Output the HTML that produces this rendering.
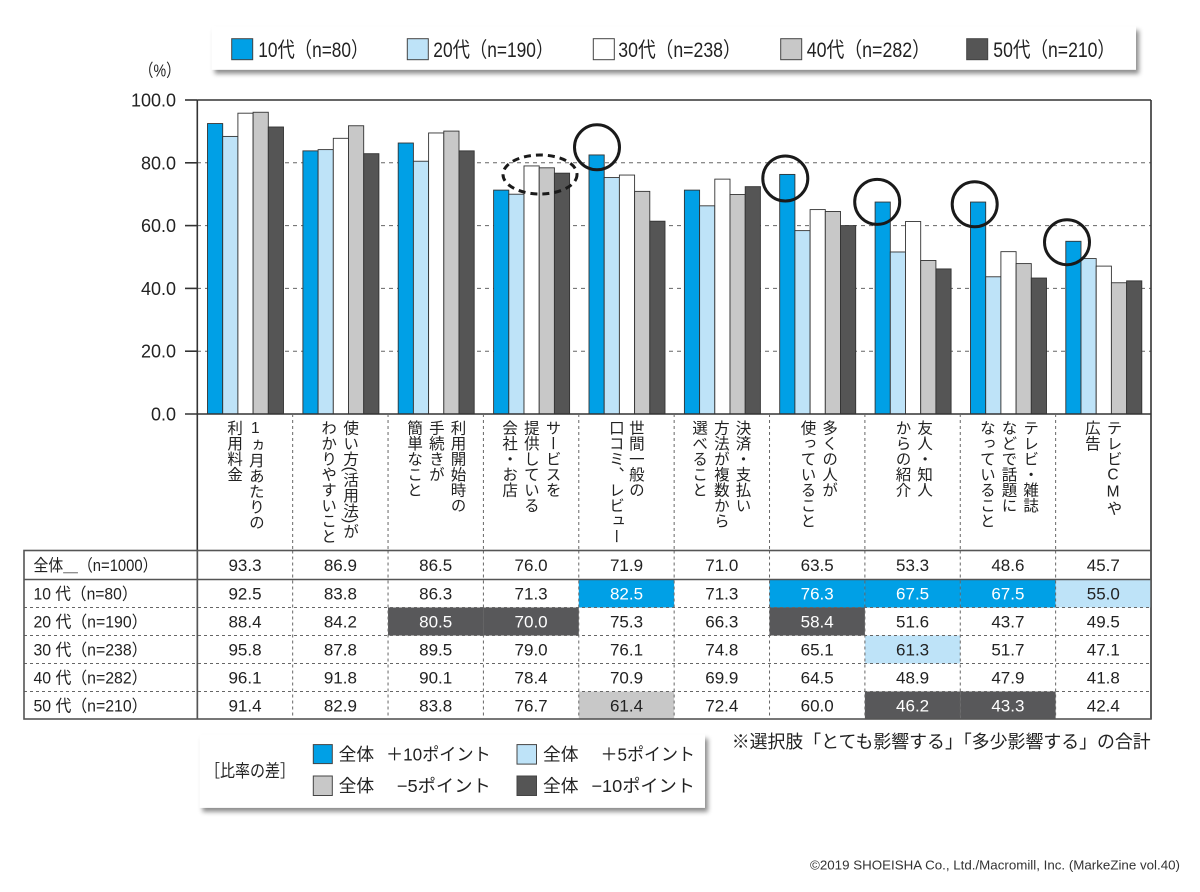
<!DOCTYPE html>
<html><head><meta charset="utf-8">
<style>
html,body{margin:0;padding:0;background:#fff;}
#root{position:relative;width:1200px;height:892px;overflow:hidden;background:#fff;font-family:"Liberation Sans","Noto Sans CJK JP",sans-serif;}
svg{position:absolute;left:0;top:0;}
.vl{position:absolute;top:420px;width:21.7px;writing-mode:vertical-rl;text-orientation:mixed;font-size:15.5px;line-height:21.7px;color:#222;white-space:nowrap;font-family:"Liberation Sans","Noto Sans CJK JP",sans-serif;}
.up{text-orientation:upright;}
</style></head><body><div id="root">
<svg width="1200" height="892" viewBox="0 0 1200 892" xmlns="http://www.w3.org/2000/svg" font-family="'Liberation Sans','Noto Sans CJK JP',sans-serif" fill="#222">
<defs>
<filter id="sh" x="-5%" y="-30%" width="110%" height="170%"><feDropShadow dx="3" dy="4" stdDeviation="2.5" flood-color="#000" flood-opacity="0.45"/></filter>
</defs>

<!-- top legend -->
<rect x="211.7" y="26.3" width="924.3" height="43.4" fill="#fff" filter="url(#sh)"/>
<g stroke="#444" stroke-width="1">
<rect x="231.7" y="38.7" width="21" height="21" fill="#00a0e6"/>
<rect x="407.3" y="38.7" width="21" height="21" fill="#bee3f8"/>
<rect x="593.3" y="38.7" width="21" height="21" fill="#fff"/>
<rect x="780.7" y="38.7" width="21" height="21" fill="#c8c8c8"/>
<rect x="966.7" y="38.7" width="21" height="21" fill="#555"/>
</g>
<g font-size="21">
<text x="258.3" y="57" textLength="110" lengthAdjust="spacingAndGlyphs">10代（n=80）</text>
<text x="433.3" y="57" textLength="120" lengthAdjust="spacingAndGlyphs">20代（n=190）</text>
<text x="618.3" y="57" textLength="122.4" lengthAdjust="spacingAndGlyphs">30代（n=238）</text>
<text x="806.7" y="57" textLength="123.3" lengthAdjust="spacingAndGlyphs">40代（n=282）</text>
<text x="993.3" y="57" textLength="121.7" lengthAdjust="spacingAndGlyphs">50代（n=210）</text>
</g>

<!-- (%) -->
<text x="139.3" y="76.5" font-size="17.5" textLength="41" lengthAdjust="spacingAndGlyphs">（%）</text>

<!-- gridlines -->
<g stroke="#666" stroke-width="1" stroke-dasharray="4,4">
<line x1="197" y1="162.8" x2="1151" y2="162.8"/>
<line x1="197" y1="225.6" x2="1151" y2="225.6"/>
<line x1="197" y1="288.4" x2="1151" y2="288.4"/>
<line x1="197" y1="351.2" x2="1151" y2="351.2"/>
</g>

<!-- bars -->
<g stroke="#333" stroke-width="0.9">
<rect x="207.5" y="123.55" width="15.2" height="290.45" fill="#00a0e6"/>
<rect x="222.7" y="136.42" width="15.2" height="277.58" fill="#bee3f8"/>
<rect x="237.9" y="113.19" width="15.2" height="300.81" fill="#fff"/>
<rect x="253.1" y="112.25" width="15.2" height="301.75" fill="#c8c8c8"/>
<rect x="268.3" y="127.0" width="15.2" height="287.0" fill="#555"/>
<rect x="302.9" y="150.87" width="15.2" height="263.13" fill="#00a0e6"/>
<rect x="318.1" y="149.61" width="15.2" height="264.39" fill="#bee3f8"/>
<rect x="333.3" y="138.31" width="15.2" height="275.69" fill="#fff"/>
<rect x="348.5" y="125.75" width="15.2" height="288.25" fill="#c8c8c8"/>
<rect x="363.7" y="153.69" width="15.2" height="260.31" fill="#555"/>
<rect x="398.2" y="143.02" width="15.2" height="270.98" fill="#00a0e6"/>
<rect x="413.4" y="161.23" width="15.2" height="252.77" fill="#bee3f8"/>
<rect x="428.6" y="132.97" width="15.2" height="281.03" fill="#fff"/>
<rect x="443.8" y="131.09" width="15.2" height="282.91" fill="#c8c8c8"/>
<rect x="459.0" y="150.87" width="15.2" height="263.13" fill="#555"/>
<rect x="493.6" y="190.12" width="15.2" height="223.88" fill="#00a0e6"/>
<rect x="508.8" y="194.2" width="15.2" height="219.8" fill="#bee3f8"/>
<rect x="524.0" y="165.94" width="15.2" height="248.06" fill="#fff"/>
<rect x="539.2" y="167.82" width="15.2" height="246.18" fill="#c8c8c8"/>
<rect x="554.4" y="173.16" width="15.2" height="240.84" fill="#555"/>
<rect x="589.0" y="154.95" width="15.2" height="259.05" fill="#00a0e6"/>
<rect x="604.2" y="177.56" width="15.2" height="236.44" fill="#bee3f8"/>
<rect x="619.4" y="175.05" width="15.2" height="238.95" fill="#fff"/>
<rect x="634.6" y="191.37" width="15.2" height="222.63" fill="#c8c8c8"/>
<rect x="649.8" y="221.2" width="15.2" height="192.8" fill="#555"/>
<rect x="684.4" y="190.12" width="15.2" height="223.88" fill="#00a0e6"/>
<rect x="699.6" y="205.82" width="15.2" height="208.18" fill="#bee3f8"/>
<rect x="714.8" y="179.13" width="15.2" height="234.87" fill="#fff"/>
<rect x="730.0" y="194.51" width="15.2" height="219.49" fill="#c8c8c8"/>
<rect x="745.2" y="186.66" width="15.2" height="227.34" fill="#555"/>
<rect x="779.7" y="174.42" width="15.2" height="239.58" fill="#00a0e6"/>
<rect x="794.9" y="230.62" width="15.2" height="183.38" fill="#bee3f8"/>
<rect x="810.1" y="209.59" width="15.2" height="204.41" fill="#fff"/>
<rect x="825.3" y="211.47" width="15.2" height="202.53" fill="#c8c8c8"/>
<rect x="840.5" y="225.6" width="15.2" height="188.4" fill="#555"/>
<rect x="875.1" y="202.05" width="15.2" height="211.95" fill="#00a0e6"/>
<rect x="890.3" y="251.98" width="15.2" height="162.02" fill="#bee3f8"/>
<rect x="905.5" y="221.52" width="15.2" height="192.48" fill="#fff"/>
<rect x="920.7" y="260.45" width="15.2" height="153.55" fill="#c8c8c8"/>
<rect x="935.9" y="268.93" width="15.2" height="145.07" fill="#555"/>
<rect x="970.5" y="202.05" width="15.2" height="211.95" fill="#00a0e6"/>
<rect x="985.7" y="276.78" width="15.2" height="137.22" fill="#bee3f8"/>
<rect x="1000.9" y="251.66" width="15.2" height="162.34" fill="#fff"/>
<rect x="1016.1" y="263.59" width="15.2" height="150.41" fill="#c8c8c8"/>
<rect x="1031.3" y="278.04" width="15.2" height="135.96" fill="#555"/>
<rect x="1065.8" y="241.3" width="15.2" height="172.7" fill="#00a0e6"/>
<rect x="1081.0" y="258.57" width="15.2" height="155.43" fill="#bee3f8"/>
<rect x="1096.2" y="266.11" width="15.2" height="147.89" fill="#fff"/>
<rect x="1111.4" y="282.75" width="15.2" height="131.25" fill="#c8c8c8"/>
<rect x="1126.6" y="280.86" width="15.2" height="133.14" fill="#555"/>
</g>

<!-- circles -->
<g fill="none" stroke="#1a1a1a" stroke-width="3">
<circle cx="597" cy="147.3" r="22.5"/>
<circle cx="785.3" cy="178.5" r="22.5"/>
<circle cx="877.2" cy="201.9" r="22.5"/>
<circle cx="974.7" cy="204.3" r="22.5"/>
<circle cx="1067" cy="242.2" r="22.5"/>
<ellipse cx="540" cy="174.5" rx="37" ry="19.5" stroke-dasharray="7,5"/>
</g>

<!-- plot frame -->
<g stroke="#333" stroke-width="1.6" fill="none">
<line x1="197.3" y1="100" x2="1151" y2="100"/>
<line x1="1151" y1="100" x2="1151" y2="719"/>
<line x1="197.3" y1="100" x2="197.3" y2="719"/>
<line x1="185" y1="414" x2="1151" y2="414"/>
<line x1="185" y1="100" x2="197.3" y2="100"/>
<line x1="185" y1="162.8" x2="197.3" y2="162.8"/>
<line x1="185" y1="225.6" x2="197.3" y2="225.6"/>
<line x1="185" y1="288.4" x2="197.3" y2="288.4"/>
<line x1="185" y1="351.2" x2="197.3" y2="351.2"/>
</g>

<!-- y labels -->
<g font-size="18" text-anchor="end">
<text x="176" y="106.5">100.0</text>
<text x="176" y="169.3">80.0</text>
<text x="176" y="232.1">60.0</text>
<text x="176" y="294.9">40.0</text>
<text x="176" y="357.7">20.0</text>
<text x="176" y="420.5">0.0</text>
</g>

<!-- label area separators -->
<g stroke="#666" stroke-width="1" stroke-dasharray="3,3">
<line x1="292.67" y1="414" x2="292.67" y2="550.5"/>
<line x1="388.04" y1="414" x2="388.04" y2="550.5"/>
<line x1="483.41" y1="414" x2="483.41" y2="550.5"/>
<line x1="578.78" y1="414" x2="578.78" y2="550.5"/>
<line x1="674.15" y1="414" x2="674.15" y2="550.5"/>
<line x1="769.52" y1="414" x2="769.52" y2="550.5"/>
<line x1="864.89" y1="414" x2="864.89" y2="550.5"/>
<line x1="960.26" y1="414" x2="960.26" y2="550.5"/>
<line x1="1055.63" y1="414" x2="1055.63" y2="550.5"/>
</g>

<!-- table highlight cells -->
<rect x="578.78" y="579.5" width="95.37" height="28" fill="#00a0e6"/>
<rect x="769.52" y="579.5" width="95.37" height="28" fill="#00a0e6"/>
<rect x="864.89" y="579.5" width="95.37" height="28" fill="#00a0e6"/>
<rect x="960.26" y="579.5" width="95.37" height="28" fill="#00a0e6"/>
<rect x="1055.63" y="579.5" width="95.37" height="28" fill="#bee3f8"/>
<rect x="388.04" y="607.5" width="95.37" height="28" fill="#58585a"/>
<rect x="483.41" y="607.5" width="95.37" height="28" fill="#58585a"/>
<rect x="769.52" y="607.5" width="95.37" height="28" fill="#58585a"/>
<rect x="864.89" y="635.5" width="95.37" height="28" fill="#bee3f8"/>
<rect x="578.78" y="691.5" width="95.37" height="27.5" fill="#c8c8c8"/>
<rect x="864.89" y="691.5" width="95.37" height="27.5" fill="#58585a"/>
<rect x="960.26" y="691.5" width="95.37" height="27.5" fill="#58585a"/>

<!-- table grid -->
<g stroke="#666" stroke-width="1" stroke-dasharray="3,3">
<line x1="24" y1="607.5" x2="1151" y2="607.5"/>
<line x1="24" y1="635.5" x2="1151" y2="635.5"/>
<line x1="24" y1="663.5" x2="1151" y2="663.5"/>
<line x1="24" y1="691.5" x2="1151" y2="691.5"/>
<line x1="292.67" y1="550.5" x2="292.67" y2="719"/>
<line x1="388.04" y1="550.5" x2="388.04" y2="719"/>
<line x1="483.41" y1="550.5" x2="483.41" y2="719"/>
<line x1="578.78" y1="550.5" x2="578.78" y2="719"/>
<line x1="674.15" y1="550.5" x2="674.15" y2="719"/>
<line x1="769.52" y1="550.5" x2="769.52" y2="719"/>
<line x1="864.89" y1="550.5" x2="864.89" y2="719"/>
<line x1="960.26" y1="550.5" x2="960.26" y2="719"/>
<line x1="1055.63" y1="550.5" x2="1055.63" y2="719"/>
</g>
<g stroke="#555" stroke-width="1.6" fill="none">
<rect x="24" y="550.5" width="1127" height="168.5"/>
<line x1="24" y1="579.5" x2="1151" y2="579.5"/>
<line x1="197.3" y1="550.5" x2="197.3" y2="719"/>
</g>

<!-- table labels -->
<g font-size="16.5">
<text x="33.5" y="571" textLength="124" lengthAdjust="spacingAndGlyphs">全体＿（n=1000）</text>
<text x="33.5" y="599.5" textLength="104" lengthAdjust="spacingAndGlyphs">10 代（n=80）</text>
<text x="33.5" y="627.5" textLength="114" lengthAdjust="spacingAndGlyphs">20 代（n=190）</text>
<text x="33.5" y="655.5" textLength="114" lengthAdjust="spacingAndGlyphs">30 代（n=238）</text>
<text x="33.5" y="683.5" textLength="114" lengthAdjust="spacingAndGlyphs">40 代（n=282）</text>
<text x="33.5" y="711.3" textLength="114" lengthAdjust="spacingAndGlyphs">50 代（n=210）</text>
</g>

<!-- table values -->
<g font-size="17" text-anchor="middle">
<text x="245" y="571">93.3</text><text x="340.4" y="571">86.9</text><text x="435.7" y="571">86.5</text><text x="531.1" y="571">76.0</text><text x="626.5" y="571">71.9</text><text x="721.8" y="571">71.0</text><text x="817.2" y="571">63.5</text><text x="912.6" y="571">53.3</text><text x="1007.9" y="571">48.6</text><text x="1103.3" y="571">45.7</text>

<text x="245" y="599.5">92.5</text><text x="340.4" y="599.5">83.8</text><text x="435.7" y="599.5">86.3</text><text x="531.1" y="599.5">71.3</text><text x="626.5" y="599.5" fill="#fff">82.5</text><text x="721.8" y="599.5">71.3</text><text x="817.2" y="599.5" fill="#fff">76.3</text><text x="912.6" y="599.5" fill="#fff">67.5</text><text x="1007.9" y="599.5" fill="#fff">67.5</text><text x="1103.3" y="599.5">55.0</text>

<text x="245" y="627.5">88.4</text><text x="340.4" y="627.5">84.2</text><text x="435.7" y="627.5" fill="#fff">80.5</text><text x="531.1" y="627.5" fill="#fff">70.0</text><text x="626.5" y="627.5">75.3</text><text x="721.8" y="627.5">66.3</text><text x="817.2" y="627.5" fill="#fff">58.4</text><text x="912.6" y="627.5">51.6</text><text x="1007.9" y="627.5">43.7</text><text x="1103.3" y="627.5">49.5</text>

<text x="245" y="655.5">95.8</text><text x="340.4" y="655.5">87.8</text><text x="435.7" y="655.5">89.5</text><text x="531.1" y="655.5">79.0</text><text x="626.5" y="655.5">76.1</text><text x="721.8" y="655.5">74.8</text><text x="817.2" y="655.5">65.1</text><text x="912.6" y="655.5">61.3</text><text x="1007.9" y="655.5">51.7</text><text x="1103.3" y="655.5">47.1</text>

<text x="245" y="683.5">96.1</text><text x="340.4" y="683.5">91.8</text><text x="435.7" y="683.5">90.1</text><text x="531.1" y="683.5">78.4</text><text x="626.5" y="683.5">70.9</text><text x="721.8" y="683.5">69.9</text><text x="817.2" y="683.5">64.5</text><text x="912.6" y="683.5">48.9</text><text x="1007.9" y="683.5">47.9</text><text x="1103.3" y="683.5">41.8</text>

<text x="245" y="711.3">91.4</text><text x="340.4" y="711.3">82.9</text><text x="435.7" y="711.3">83.8</text><text x="531.1" y="711.3">76.7</text><text x="626.5" y="711.3">61.4</text><text x="721.8" y="711.3">72.4</text><text x="817.2" y="711.3">60.0</text><text x="912.6" y="711.3" fill="#fff">46.2</text><text x="1007.9" y="711.3" fill="#fff">43.3</text><text x="1103.3" y="711.3">42.4</text>
</g>

<!-- bottom legend -->
<rect x="199.5" y="734.5" width="505.5" height="73.3" fill="#fff" filter="url(#sh)"/>
<g stroke="#444" stroke-width="1">
<rect x="313.3" y="744.6" width="19" height="19" fill="#00a0e6"/>
<rect x="517" y="744.6" width="19.5" height="19.5" fill="#bee3f8"/>
<rect x="313.3" y="776" width="19" height="19.5" fill="#c8c8c8"/>
<rect x="517" y="776" width="19.5" height="19.5" fill="#555"/>
</g>
<g font-size="17.5">
<text x="205" y="777" textLength="90" lengthAdjust="spacingAndGlyphs">［比率の差］</text>
<text x="338.6" y="760.5" textLength="35.5" lengthAdjust="spacingAndGlyphs">全体</text>
<text x="386" y="760.5" textLength="104.7" lengthAdjust="spacingAndGlyphs">＋10ポイント</text>
<text x="543" y="760.5" textLength="35.5" lengthAdjust="spacingAndGlyphs">全体</text>
<text x="600.5" y="760.5" textLength="94.5" lengthAdjust="spacingAndGlyphs">＋5ポイント</text>
<text x="338.6" y="792" textLength="35.5" lengthAdjust="spacingAndGlyphs">全体</text>
<text x="396.8" y="792" textLength="94" lengthAdjust="spacingAndGlyphs">−5ポイント</text>
<text x="543" y="792" textLength="35.5" lengthAdjust="spacingAndGlyphs">全体</text>
<text x="591.4" y="792" textLength="103.6" lengthAdjust="spacingAndGlyphs">−10ポイント</text>
</g>

<!-- note & copyright -->
<text x="731.7" y="748" font-size="18" textLength="419" lengthAdjust="spacingAndGlyphs">※選択肢「とても影響する」「多少影響する」の合計</text>
<text x="810" y="869.5" font-size="13" fill="#333" textLength="370" lengthAdjust="spacingAndGlyphs">©2019 SHOEISHA Co., Ltd./Macromill, Inc. (MarkeZine vol.40)</text>
</svg>

<!-- vertical category labels -->
<div class="vl" style="left:244.15px"><span class="up">1</span>ヵ月あたりの</div>
<div class="vl" style="left:222.45px">利用料金</div>
<div class="vl" style="left:338.45px">使い方(活用法)が</div>
<div class="vl" style="left:316.45px">わかりやすいこと</div>
<div class="vl" style="left:445.85px">利用開始時の</div>
<div class="vl" style="left:424.15px">手続きが</div>
<div class="vl" style="left:402.45px">簡単なこと</div>
<div class="vl" style="left:540.85px">サービスを</div>
<div class="vl" style="left:519.15px">提供している</div>
<div class="vl" style="left:497.45px">会社・お店</div>
<div class="vl" style="left:624.15px">世間一般の</div>
<div class="vl" style="left:604.15px">口コミ、レビュー</div>
<div class="vl" style="left:730.85px">決済・支払い</div>
<div class="vl" style="left:709.15px">方法が複数から</div>
<div class="vl" style="left:687.45px">選べること</div>
<div class="vl" style="left:817.45px">多くの人が</div>
<div class="vl" style="left:795.85px">使っていること</div>
<div class="vl" style="left:912.45px">友人・知人</div>
<div class="vl" style="left:890.85px">からの紹介</div>
<div class="vl" style="left:1018.45px">テレビ・雑誌</div>
<div class="vl" style="left:996.85px">などで話題に</div>
<div class="vl" style="left:975.15px">なっていること</div>
<div class="vl" style="left:1101.85px">テレビ<span class="up">CM</span>や</div>
<div class="vl" style="left:1080.15px">広告</div>
</div></body></html>
